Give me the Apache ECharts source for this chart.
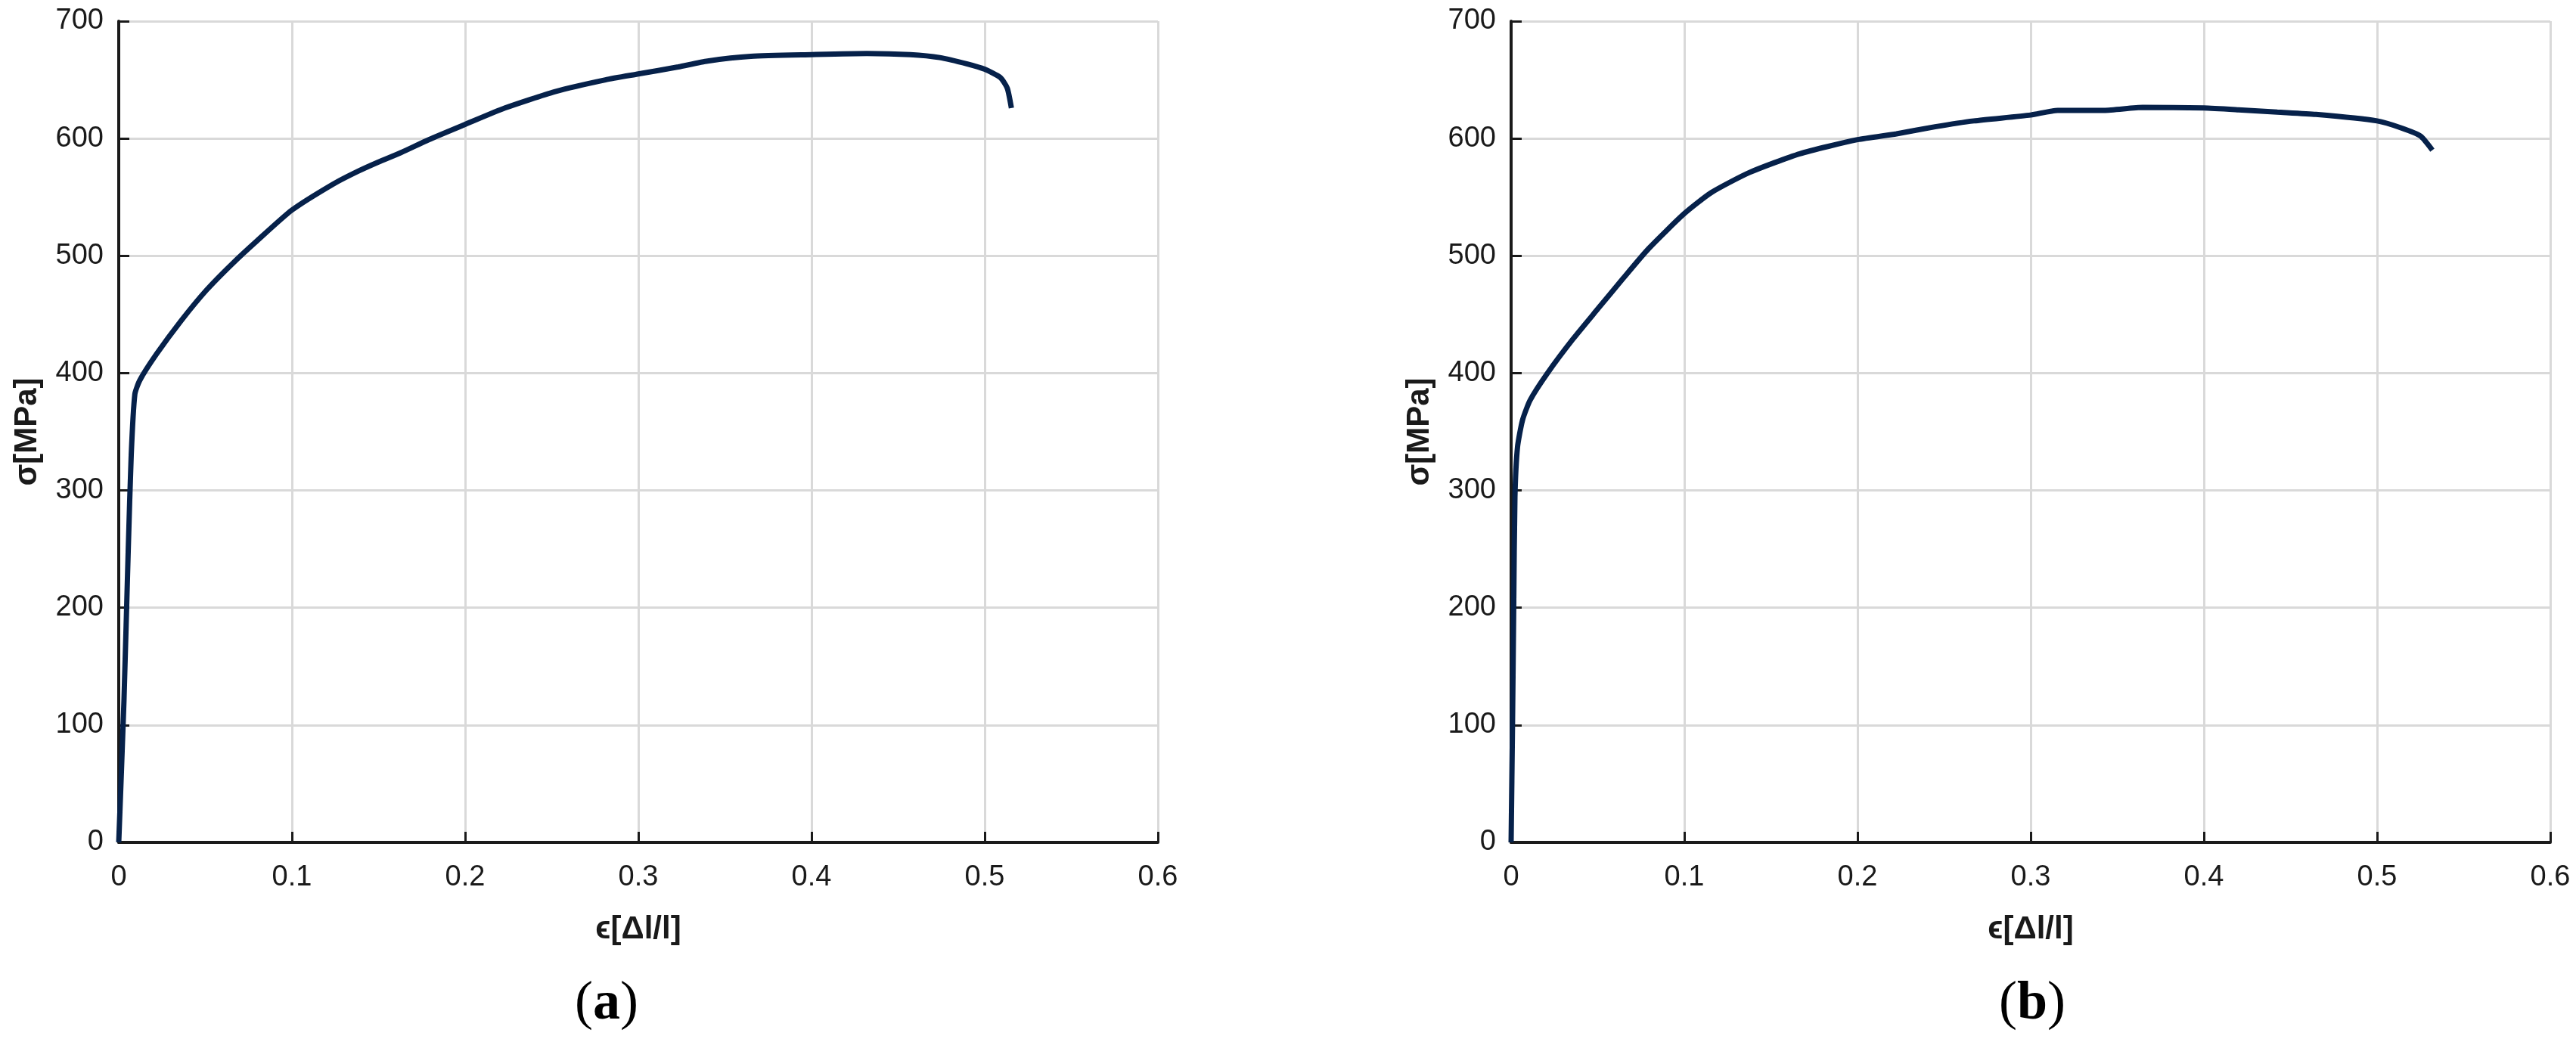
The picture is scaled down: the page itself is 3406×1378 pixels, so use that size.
<!DOCTYPE html>
<html>
<head>
<meta charset="utf-8">
<script src="https://cdn.jsdelivr.net/npm/echarts@6/dist/echarts.min.js"></script>
<style>
html,body{margin:0;padding:0;background:#fff;}
#chart{width:3406px;height:1378px;}
</style>
</head>
<body>
<div id="chart"></div>
<script>
// Strain values ε [Δl/l] and stress σ [MPa]
const strainA = [0, 0.003, 0.0055, 0.0072, 0.0093, 0.0122, 0.0217, 0.0362, 0.0508, 0.0654, 0.08, 0.1, 0.1236, 0.138, 0.15, 0.163, 0.179, 0.2, 0.223, 0.252, 0.281, 0.3, 0.323, 0.34, 0.365, 0.4, 0.432, 0.457, 0.474, 0.49, 0.5, 0.509, 0.513, 0.5154];
const stressA = [0, 120, 250, 330, 382, 394, 416, 445, 471, 493, 513, 539, 561, 572, 580, 588, 599, 612, 626, 640, 650, 655, 661, 666, 670, 671.5, 672.5, 671.5, 669, 663.5, 659, 652, 643, 626];

const strainB = [0, 0.0008, 0.0015, 0.0022, 0.0037, 0.0066, 0.011, 0.021, 0.0357, 0.0502, 0.0648, 0.0793, 0.1, 0.1157, 0.1376, 0.1667, 0.2, 0.2225, 0.2448, 0.2672, 0.3, 0.3156, 0.3424, 0.3647, 0.4, 0.42, 0.4424, 0.4647, 0.5, 0.514, 0.5252, 0.5319];
const stressB = [0, 100, 200, 294, 337, 360, 377, 400, 429, 455, 481, 506, 536, 554, 571, 587, 599, 604, 610, 615, 620, 624, 624, 626.5, 626, 624.5, 622.5, 620.5, 615, 609, 602, 590];

const xTicks = {min: 0, max: 0.6, interval: 0.1};
const yTicks = {min: 0, max: 700, interval: 100};
const xName = 'ϵ[Δl/l]';
const yName = 'σ[MPa]';
const panelLabels = ['a', 'b'];

const pairs = (xs, ys) => xs.map((x, i) => [x, ys[i]]);

const chart = echarts.init(document.getElementById('chart'), null, {renderer: 'canvas'});

const axisCommon = {
  axisLine: {show: true, onZero: false, lineStyle: {color: '#1a1a1a', width: 4}},
  axisTick: {show: true, inside: true, length: 14, lineStyle: {color: '#1a1a1a', width: 3}},
  splitLine: {show: true, lineStyle: {color: '#d9d9d9', width: 3}},
  axisLabel: {color: '#1a1a1a', fontFamily: 'Liberation Sans', fontSize: 38},
  nameTextStyle: {color: '#1a1a1a', fontFamily: 'Liberation Sans', fontSize: 42, fontWeight: 'bold'}
};

function xAxis(gridIndex) {
  return Object.assign({}, JSON.parse(JSON.stringify(axisCommon)), {
    type: 'value', gridIndex, min: xTicks.min, max: xTicks.max, interval: xTicks.interval,
    name: xName, nameLocation: 'middle', nameGap: 94,
    axisLabel: Object.assign({}, axisCommon.axisLabel, {margin: 28})
  });
}
function yAxis(gridIndex) {
  return Object.assign({}, JSON.parse(JSON.stringify(axisCommon)), {
    type: 'value', gridIndex, min: yTicks.min, max: yTicks.max, interval: yTicks.interval,
    name: yName, nameLocation: 'middle', nameGap: 100,
    axisLabel: Object.assign({}, axisCommon.axisLabel, {margin: 20})
  });
}

const lineStyle = {color: '#06214a', width: 7};

chart.setOption({
  backgroundColor: '#ffffff',
  animation: false,
  grid: [
    {left: 157, top: 28, width: 1374, height: 1086},
    {left: 1998, top: 28, width: 1374, height: 1086}
  ],
  xAxis: [xAxis(0), xAxis(1)],
  yAxis: [yAxis(0), yAxis(1)],
  series: [
    {type: 'line', xAxisIndex: 0, yAxisIndex: 0, data: pairs(strainA, stressA), showSymbol: false, smooth: 0.2, lineStyle, itemStyle: {color: lineStyle.color}},
    {type: 'line', xAxisIndex: 1, yAxisIndex: 1, data: pairs(strainB, stressB), showSymbol: false, smooth: 0.2, lineStyle, itemStyle: {color: lineStyle.color}}
  ],
  graphic: [
    {type: 'text', x: 802, y: 1328, style: {text: '{p|(}{b|' + panelLabels[0] + '}{p|)}', align: 'center', verticalAlign: 'middle',
      rich: {p: {fontFamily: 'Liberation Serif', fontSize: 72, fill: '#000'}, b: {fontFamily: 'Liberation Serif', fontSize: 72, fontWeight: 'bold', fill: '#000'}}}},
    {type: 'text', x: 2687, y: 1328, style: {text: '{p|(}{b|' + panelLabels[1] + '}{p|)}', align: 'center', verticalAlign: 'middle',
      rich: {p: {fontFamily: 'Liberation Serif', fontSize: 72, fill: '#000'}, b: {fontFamily: 'Liberation Serif', fontSize: 72, fontWeight: 'bold', fill: '#000'}}}}
  ]
});
</script>
</body>
</html>
